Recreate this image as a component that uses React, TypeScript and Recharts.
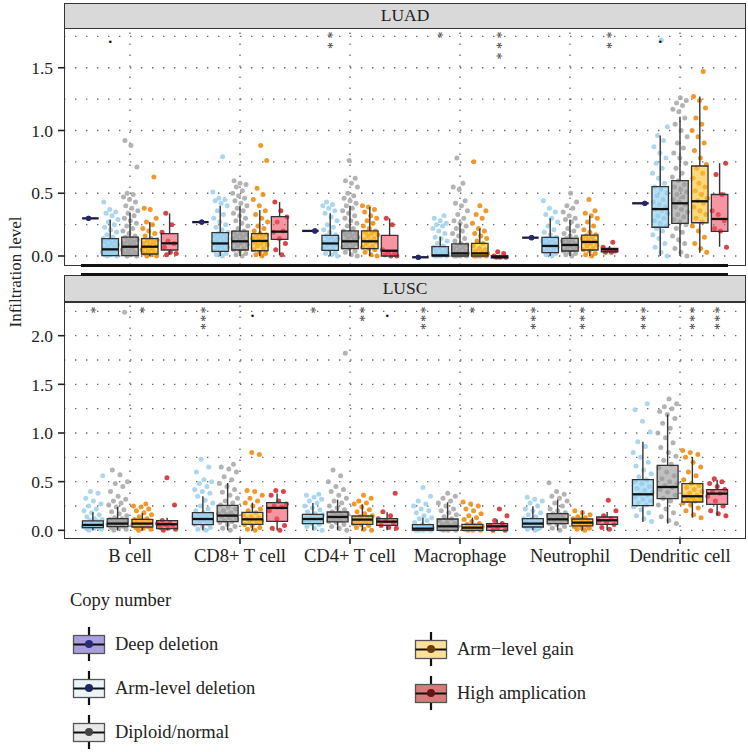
import React from 'react';
import { ComposedChart, Scatter, XAxis, YAxis, ReferenceLine, ReferenceArea } from 'recharts';

// ---------- categories / labels ----------
const CATEGORIES = ['B cell', 'CD8+ T cell', 'CD4+ T cell', 'Macrophage', 'Neutrophil', 'Dendritic cell'];
const GROUP_NAMES = ['Deep deletion', 'Arm-level deletion', 'Diploid/normal', 'Arm\u2212level gain', 'High amplication'];
const LEGEND_TITLE = 'Copy number';
const Y_TITLE = 'Infiltration level';
const PANELS = ['LUAD', 'LUSC'];
const Y_TICKS_LUAD = [0, 0.5, 1.0, 1.5];
const Y_TICKS_LUSC = [0, 0.5, 1.0, 1.5, 2.0];
const GRID_LUAD = [0, 0.25, 0.5, 0.75, 1, 1.25, 1.5, 1.75];
const GRID_LUSC = [0, 0.25, 0.5, 0.75, 1, 1.25, 1.5, 1.75, 2, 2.25];

// ---------- LUAD ----------
const LUAD_DEEP = [0.30, 0.27, 0.20, -0.01, 0.146, 0.42];
// box stats per category: [lower whisker, q1, median, q3, upper whisker]
const LUAD_ARMDEL_BOX = [[0, 0.003, 0.053, 0.138, 0.29], [0, 0.037, 0.10, 0.186, 0.40], [0, 0.045, 0.10, 0.165, 0.34], [0, 0, 0.005, 0.074, 0.154], [0, 0.027, 0.08, 0.149, 0.30], [0, 0.229, 0.374, 0.552, 0.96]];
const LUAD_DIPLOID_BOX = [[0, 0.003, 0.074, 0.151, 0.345], [0, 0.048, 0.117, 0.199, 0.40], [0, 0.058, 0.117, 0.20, 0.40], [0, 0, 0.021, 0.096, 0.26], [0, 0.04, 0.088, 0.141, 0.287], [0, 0.26, 0.42, 0.60, 1.11]];
const LUAD_GAIN_BOX = [[0, 0.016, 0.074, 0.138, 0.27], [0, 0.042, 0.12, 0.178, 0.366], [0, 0.058, 0.117, 0.20, 0.39], [0, 0, 0.021, 0.10, 0.22], [0, 0.048, 0.112, 0.167, 0.32], [0.026, 0.265, 0.436, 0.717, 1.27]];
const LUAD_AMP_BOX = [[0.01, 0.048, 0.101, 0.178, 0.34], [0.008, 0.133, 0.194, 0.313, 0.43], [0, 0, 0.042, 0.165, 0.30], [-0.015, -0.015, -0.008, 0.002, 0.01], [0.03, 0.034, 0.053, 0.06, 0.08], [0.074, 0.197, 0.295, 0.49, 0.74]];

const LUAD_ARMDEL_PTS = [
  [0, 0, 0.01, 0.01, 0.02, 0.02, 0.03, 0.03, 0.04, 0.05, 0.05, 0.06, 0.07, 0.08, 0.09, 0.1, 0.11, 0.12, 0.13, 0.14, 0.15, 0.17, 0.19, 0.21, 0.23, 0.25, 0.27, 0.29, 0.32, 0.34, 0.35, 0.37, 0.43],
  [0, 0.01, 0.02, 0.03, 0.04, 0.05, 0.06, 0.07, 0.08, 0.09, 0.1, 0.1, 0.11, 0.12, 0.13, 0.14, 0.15, 0.16, 0.17, 0.18, 0.19, 0.21, 0.23, 0.25, 0.27, 0.3, 0.33, 0.36, 0.4, 0.42, 0.44, 0.45, 0.46, 0.51, 0.79],
  [0, 0.01, 0.02, 0.03, 0.05, 0.06, 0.07, 0.08, 0.09, 0.1, 0.11, 0.12, 0.13, 0.14, 0.15, 0.16, 0.17, 0.19, 0.21, 0.23, 0.25, 0.28, 0.31, 0.34, 0.36, 0.38, 0.4, 0.41, 0.43],
  [0, 0, 0, 0, 0.01, 0.01, 0.02, 0.03, 0.04, 0.05, 0.06, 0.07, 0.08, 0.1, 0.12, 0.14, 0.15, 0.18, 0.2, 0.22, 0.24, 0.25, 0.26, 0.28, 0.3, 0.32],
  [0, 0.01, 0.02, 0.03, 0.04, 0.05, 0.06, 0.07, 0.08, 0.09, 0.1, 0.11, 0.12, 0.13, 0.14, 0.15, 0.17, 0.19, 0.21, 0.24, 0.27, 0.3, 0.33, 0.35, 0.38, 0.44],
  [0, 0.03, 0.07, 0.1, 0.14, 0.17, 0.2, 0.22, 0.24, 0.26, 0.28, 0.3, 0.32, 0.34, 0.36, 0.37, 0.39, 0.41, 0.43, 0.45, 0.48, 0.5, 0.53, 0.55, 0.58, 0.62, 0.66, 0.7, 0.74, 0.78, 0.82, 0.87, 0.92, 0.96, 1.03, 1.72],
];
const LUAD_DIPLOID_PTS = [
  [0, 0, 0.01, 0.02, 0.03, 0.04, 0.05, 0.06, 0.07, 0.08, 0.09, 0.1, 0.11, 0.12, 0.13, 0.14, 0.15, 0.16, 0.18, 0.2, 0.22, 0.24, 0.26, 0.28, 0.3, 0.32, 0.34, 0.36, 0.38, 0.4, 0.43, 0.45, 0.47, 0.49, 0.5, 0.71, 0.88, 0.92],
  [0, 0.01, 0.02, 0.04, 0.05, 0.06, 0.08, 0.09, 0.1, 0.11, 0.12, 0.13, 0.14, 0.15, 0.16, 0.17, 0.18, 0.19, 0.2, 0.22, 0.24, 0.26, 0.28, 0.3, 0.32, 0.34, 0.36, 0.38, 0.4, 0.42, 0.44, 0.46, 0.48, 0.5, 0.52, 0.55, 0.57, 0.58, 0.6],
  [0, 0.01, 0.03, 0.04, 0.06, 0.07, 0.08, 0.09, 0.1, 0.11, 0.12, 0.13, 0.14, 0.15, 0.16, 0.17, 0.18, 0.19, 0.2, 0.22, 0.24, 0.26, 0.28, 0.3, 0.32, 0.34, 0.36, 0.38, 0.4, 0.42, 0.44, 0.46, 0.48, 0.5, 0.55, 0.58, 0.6, 0.62, 0.76],
  [0, 0, 0, 0, 0.01, 0.01, 0.02, 0.02, 0.03, 0.04, 0.05, 0.06, 0.07, 0.08, 0.09, 0.1, 0.12, 0.14, 0.16, 0.18, 0.2, 0.22, 0.24, 0.26, 0.28, 0.3, 0.33, 0.36, 0.4, 0.42, 0.44, 0.53, 0.55, 0.58, 0.78],
  [0, 0.01, 0.02, 0.03, 0.04, 0.05, 0.06, 0.07, 0.08, 0.09, 0.1, 0.11, 0.12, 0.13, 0.14, 0.15, 0.16, 0.18, 0.2, 0.22, 0.24, 0.27, 0.29, 0.3, 0.32, 0.35, 0.38, 0.4, 0.43, 0.5],
  [0, 0.03, 0.06, 0.1, 0.13, 0.16, 0.19, 0.22, 0.25, 0.27, 0.29, 0.31, 0.33, 0.35, 0.37, 0.39, 0.41, 0.43, 0.45, 0.47, 0.49, 0.51, 0.53, 0.55, 0.57, 0.6, 0.63, 0.66, 0.7, 0.74, 0.78, 0.82, 0.86, 0.9, 0.95, 1.0, 1.05, 1.1, 1.15, 1.17, 1.2, 1.22, 1.24, 1.26],
];
const LUAD_GAIN_PTS = [
  [0, 0, 0.01, 0.02, 0.03, 0.04, 0.05, 0.06, 0.07, 0.08, 0.09, 0.1, 0.11, 0.12, 0.13, 0.14, 0.16, 0.18, 0.2, 0.22, 0.25, 0.27, 0.3, 0.37, 0.38, 0.63],
  [0, 0.01, 0.02, 0.03, 0.05, 0.06, 0.08, 0.09, 0.1, 0.11, 0.12, 0.13, 0.14, 0.15, 0.16, 0.17, 0.18, 0.2, 0.22, 0.24, 0.27, 0.3, 0.33, 0.36, 0.4, 0.45, 0.49, 0.54, 0.76, 0.88],
  [0, 0.01, 0.03, 0.05, 0.06, 0.07, 0.08, 0.1, 0.11, 0.12, 0.13, 0.14, 0.16, 0.17, 0.18, 0.19, 0.2, 0.22, 0.24, 0.26, 0.28, 0.3, 0.32, 0.35, 0.37, 0.39, 0.4],
  [0, 0, 0, 0, 0.01, 0.01, 0.02, 0.03, 0.04, 0.05, 0.06, 0.08, 0.1, 0.12, 0.14, 0.16, 0.18, 0.2, 0.22, 0.26, 0.3, 0.33, 0.36, 0.4, 0.75],
  [0, 0.01, 0.02, 0.04, 0.05, 0.06, 0.08, 0.09, 0.1, 0.11, 0.12, 0.13, 0.14, 0.15, 0.16, 0.17, 0.19, 0.21, 0.24, 0.27, 0.3, 0.32, 0.34, 0.36, 0.45],
  [0.03, 0.06, 0.1, 0.15, 0.2, 0.24, 0.27, 0.3, 0.33, 0.36, 0.39, 0.42, 0.44, 0.46, 0.49, 0.52, 0.55, 0.58, 0.62, 0.66, 0.7, 0.73, 0.78, 0.84, 0.9, 0.95, 1.0, 1.05, 1.1, 1.18, 1.24, 1.27, 1.47],
];
const LUAD_AMP_PTS = [
  [0.01, 0.02, 0.03, 0.07, 0.1, 0.12, 0.19, 0.25, 0.34],
  [0.01, 0.05, 0.1, 0.14, 0.19, 0.2, 0.27, 0.31, 0.36, 0.43],
  [0, 0, 0.01, 0.02, 0.03, 0.05, 0.25, 0.3],
  [-0.01, -0.01, -0.01, 0, 0.02, 0.034],
  [0.03, 0.03, 0.04, 0.05, 0.07, 0.11],
  [0.07, 0.2, 0.22, 0.28, 0.33, 0.36, 0.49, 0.65, 0.74],
];

// ---------- LUSC ----------
const LUSC_ARMDEL_BOX = [[0, 0.027, 0.055, 0.096, 0.185], [0, 0.058, 0.116, 0.182, 0.35], [0, 0.069, 0.116, 0.164, 0.281], [0, 0, 0.017, 0.058, 0.13], [0, 0.034, 0.069, 0.12, 0.247], [0.086, 0.254, 0.37, 0.521, 0.91]];
const LUSC_DIPLOID_BOX = [[0, 0.038, 0.069, 0.12, 0.24], [0, 0.089, 0.151, 0.257, 0.486], [0, 0.086, 0.137, 0.188, 0.315], [0, 0, 0.041, 0.116, 0.288], [0, 0.069, 0.113, 0.171, 0.315], [0.069, 0.326, 0.445, 0.668, 1.19]];
const LUSC_GAIN_BOX = [[0, 0.034, 0.069, 0.113, 0.178], [0, 0.062, 0.113, 0.185, 0.284], [0, 0.062, 0.11, 0.147, 0.267], [0, 0, 0.027, 0.062, 0.13], [0, 0.045, 0.079, 0.116, 0.205], [0.13, 0.291, 0.35, 0.48, 0.754]];
const LUSC_AMP_BOX = [[0, 0.017, 0.062, 0.099, 0.13], [0, 0.092, 0.23, 0.284, 0.377], [0, 0.051, 0.089, 0.12, 0.185], [0, 0, 0.041, 0.069, 0.11], [0, 0.062, 0.103, 0.137, 0.188], [0.154, 0.267, 0.377, 0.418, 0.52]];

const LUSC_ARMDEL_PTS = [
  [0, 0.01, 0.02, 0.02, 0.03, 0.04, 0.04, 0.05, 0.05, 0.06, 0.07, 0.08, 0.09, 0.1, 0.11, 0.12, 0.14, 0.16, 0.18, 0.2, 0.22, 0.25, 0.27, 0.3, 0.33, 0.38, 0.4, 0.56],
  [0, 0.01, 0.03, 0.04, 0.06, 0.07, 0.08, 0.09, 0.1, 0.11, 0.12, 0.13, 0.14, 0.15, 0.16, 0.17, 0.18, 0.2, 0.22, 0.25, 0.28, 0.31, 0.35, 0.38, 0.4, 0.42, 0.45, 0.48, 0.5, 0.52, 0.6, 0.65, 0.73],
  [0, 0.02, 0.04, 0.06, 0.07, 0.08, 0.09, 0.1, 0.11, 0.12, 0.13, 0.14, 0.15, 0.16, 0.17, 0.19, 0.21, 0.23, 0.25, 0.28, 0.3, 0.32, 0.34, 0.36, 0.37],
  [0, 0, 0, 0, 0.01, 0.01, 0.02, 0.03, 0.04, 0.05, 0.06, 0.08, 0.1, 0.12, 0.13, 0.15, 0.18, 0.2, 0.22, 0.25, 0.27, 0.3, 0.35, 0.44],
  [0, 0.01, 0.02, 0.03, 0.04, 0.05, 0.06, 0.07, 0.08, 0.09, 0.1, 0.11, 0.12, 0.14, 0.16, 0.18, 0.2, 0.22, 0.25, 0.28, 0.3, 0.32, 0.34],
  [0.09, 0.12, 0.15, 0.18, 0.21, 0.24, 0.26, 0.28, 0.3, 0.32, 0.34, 0.36, 0.37, 0.39, 0.41, 0.43, 0.45, 0.48, 0.5, 0.52, 0.55, 0.58, 0.62, 0.66, 0.7, 0.75, 0.8, 0.86, 0.91, 1.01, 1.12, 1.24, 1.3],
];
const LUSC_DIPLOID_PTS = [
  [0, 0.01, 0.02, 0.03, 0.04, 0.05, 0.06, 0.07, 0.08, 0.09, 0.1, 0.11, 0.12, 0.13, 0.15, 0.17, 0.19, 0.21, 0.24, 0.26, 0.28, 0.3, 0.32, 0.35, 0.4, 0.45, 0.48, 0.5, 0.57, 0.62, 2.24],
  [0, 0.02, 0.04, 0.06, 0.08, 0.09, 0.1, 0.12, 0.13, 0.14, 0.15, 0.16, 0.17, 0.18, 0.2, 0.22, 0.24, 0.26, 0.28, 0.3, 0.33, 0.36, 0.39, 0.42, 0.45, 0.48, 0.52, 0.55, 0.6, 0.63, 0.65, 0.68],
  [0, 0.02, 0.04, 0.06, 0.08, 0.09, 0.1, 0.11, 0.12, 0.13, 0.14, 0.15, 0.16, 0.17, 0.18, 0.19, 0.21, 0.23, 0.25, 0.28, 0.3, 0.33, 0.36, 0.4, 0.42, 0.45, 0.5, 0.56, 0.62, 1.82],
  [0, 0, 0, 0.01, 0.02, 0.03, 0.04, 0.05, 0.06, 0.07, 0.08, 0.1, 0.12, 0.14, 0.16, 0.18, 0.2, 0.22, 0.25, 0.28, 0.3, 0.33, 0.35, 0.38],
  [0, 0.02, 0.04, 0.06, 0.07, 0.08, 0.09, 0.1, 0.11, 0.12, 0.13, 0.14, 0.15, 0.16, 0.17, 0.18, 0.2, 0.22, 0.25, 0.28, 0.3, 0.33, 0.35, 0.37, 0.4, 0.49],
  [0.07, 0.1, 0.14, 0.18, 0.22, 0.26, 0.3, 0.33, 0.36, 0.39, 0.42, 0.44, 0.46, 0.48, 0.5, 0.53, 0.56, 0.6, 0.64, 0.68, 0.72, 0.76, 0.8, 0.85, 0.9, 0.95, 1.0, 1.05, 1.1, 1.15, 1.19, 1.22, 1.25, 1.27, 1.3, 1.35],
];
const LUSC_GAIN_PTS = [
  [0, 0.01, 0.02, 0.03, 0.04, 0.05, 0.06, 0.07, 0.08, 0.09, 0.1, 0.11, 0.12, 0.14, 0.16, 0.18, 0.2, 0.22, 0.24, 0.25, 0.27],
  [0, 0.01, 0.03, 0.05, 0.06, 0.08, 0.09, 0.1, 0.11, 0.12, 0.13, 0.14, 0.16, 0.18, 0.2, 0.22, 0.25, 0.28, 0.3, 0.33, 0.36, 0.4, 0.41, 0.78, 0.8],
  [0, 0.01, 0.03, 0.05, 0.06, 0.07, 0.08, 0.09, 0.1, 0.11, 0.12, 0.13, 0.14, 0.15, 0.17, 0.19, 0.21, 0.24, 0.27, 0.28, 0.3, 0.33, 0.36],
  [0, 0, 0, 0.01, 0.02, 0.03, 0.04, 0.05, 0.06, 0.07, 0.09, 0.11, 0.13, 0.15, 0.17, 0.2, 0.22, 0.25, 0.27, 0.29],
  [0, 0.01, 0.02, 0.03, 0.04, 0.05, 0.06, 0.07, 0.08, 0.09, 0.1, 0.11, 0.12, 0.13, 0.14, 0.16, 0.18, 0.2],
  [0.13, 0.16, 0.2, 0.23, 0.26, 0.28, 0.3, 0.31, 0.32, 0.33, 0.35, 0.36, 0.38, 0.4, 0.42, 0.44, 0.46, 0.48, 0.52, 0.56, 0.6, 0.65, 0.7, 0.75, 0.78, 0.8, 0.82],
];
const LUSC_AMP_PTS = [
  [0, 0.01, 0.02, 0.03, 0.05, 0.06, 0.07, 0.08, 0.1, 0.26, 0.54],
  [0, 0.02, 0.05, 0.12, 0.2, 0.24, 0.25, 0.27, 0.3, 0.36, 0.4, 0.41],
  [0.02, 0.03, 0.05, 0.08, 0.1, 0.12, 0.15, 0.19, 0.38],
  [0, 0, 0.02, 0.05, 0.07, 0.1, 0.15, 0.22],
  [0.01, 0.03, 0.06, 0.08, 0.1, 0.12, 0.15, 0.2, 0.31],
  [0.15, 0.17, 0.2, 0.25, 0.3, 0.35, 0.38, 0.4, 0.42, 0.45, 0.48, 0.5, 0.53],
];

// significance labels: [category index, group index, label]
const LUAD_SIG: [number, number, string][] = [[0, 1, '.'], [2, 1, '**'], [3, 1, '*'], [3, 4, '***'], [4, 4, '**'], [5, 1, '.']];
const LUSC_SIG: [number, number, string][] = [[0, 1, '*'], [0, 3, '*'], [1, 1, '***'], [1, 3, '.'], [2, 1, '*'], [2, 3, '**'], [2, 4, '.'], [3, 1, '***'], [3, 3, '*'], [4, 1, '***'], [4, 3, '***'], [5, 1, '***'], [5, 3, '***'], [5, 4, '***']];
const LUAD_SIG_Y = 1.76;
const LUSC_SIG_Y = 2.265;

// ---------- styles ----------
const FONT = '"Liberation Serif", "Times New Roman", serif';
const POINT_COLORS = ['#27276d', '#9fd0ea', '#a9a9a9', '#ef8a0c', '#d42a2e'];
const BOX_FILLS = ['#a99fdf', '#8fcdee', '#9a9a9a', '#fbc22f', '#f2546a'];
const LEGEND_FILLS = ['#a99fdf', '#eaf4f9', '#e9e9e9', '#fde19a', '#d77b7b'];
const LEGEND_DOTS = ['#2b2a78', '#1f2860', '#444444', '#6b3b10', '#6b1212'];

const jit = (i: number) => ((i * 0.6180339887 + 0.31) % 1) - 0.5;

type PanelCfg = {
  name: string;
  top: number;
  height: number;
  marginTop: number;
  marginBottom: number;
  yDomain: [number, number];
  yTicks: number[];
  grid: number[];
  showX: boolean;
  groups: number[];
  offsets: number[];
  boxW: number;
  boxes: number[][][];
  points: number[][][];
  sig: [number, number, string][];
  sigY: number;
  sigGap: number;
};

const SigShape = (gap: number) => (p: any) => {
  const { cx, cy, payload } = p;
  const s: string = payload.label;
  if (s === '.') {
    return (
      <text x={cx} y={cy + gap * 0.5 + 3} textAnchor="middle" fontSize={22} fontFamily={FONT} fill="#111" stroke="none">.</text>
    );
  }
  const fs = 14;
  const ls = gap - fs * 0.5;
  return (
    <text
      x={cx - fs * 0.25}
      y={cy}
      dy={fs * 0.52}
      transform={`rotate(90 ${cx} ${cy})`}
      fontSize={fs}
      letterSpacing={ls}
      fontFamily={FONT}
      fill="#3a3a3a"
      stroke="none"
    >
      {s}
    </text>
  );
};

function Panel({ cfg }: { cfg: PanelCfg }) {
  const xOf = (cat: number, gi: number) => cat + 1 + cfg.offsets[gi];
  const half = cfg.boxW / 2;
  const scatterData = cfg.groups.map((g, gi) => {
    const arr: { x: number; y: number }[] = [];
    cfg.points[gi].forEach((vals, cat) => {
      vals.forEach((v, i) => {
        arr.push({ x: xOf(cat, gi) + jit(i + cat * 7) * cfg.boxW * (g === 0 ? 0.6 : 0.95), y: v });
      });
    });
    return arr;
  });
  const sigData = cfg.sig.map(([cat, g, label]) => ({
    x: xOf(cat, cfg.groups.indexOf(g)),
    y: cfg.sigY,
    label,
  }));
  return (
    <div style={{ position: 'absolute', left: 0, top: cfg.top, width: 748, height: cfg.height }}>
      <ComposedChart
        width={748}
        height={cfg.height}
        margin={{ top: cfg.marginTop, right: 2, bottom: cfg.marginBottom, left: 8 }}
      >
        <XAxis
          type="number"
          dataKey="x"
          domain={[0.4, 6.6]}
          allowDataOverflow
          ticks={[1, 2, 3, 4, 5, 6]}
          interval={0}
          hide={!cfg.showX}
          height={30}
          tickFormatter={(v: number) => CATEGORIES[Math.round(v) - 1]}
          tickSize={6}
          tickMargin={5}
          axisLine={false}
          tickLine={{ stroke: '#222', strokeWidth: 1.6 }}
          tick={{ fill: '#222', fontSize: 18.5, fontFamily: FONT }}
        />
        <YAxis
          type="number"
          dataKey="y"
          domain={cfg.yDomain}
          allowDataOverflow
          ticks={cfg.yTicks}
          interval={0}
          width={56}
          tickFormatter={(v: number) => v.toFixed(1)}
          tickSize={6}
          tickMargin={5}
          axisLine={false}
          tickLine={{ stroke: '#222', strokeWidth: 1.6 }}
          tick={{ fill: '#222', fontSize: 17.5, fontFamily: FONT }}
        />
        {cfg.grid.map((v) => (
          <ReferenceLine key={'h' + v} y={v} stroke="#666" strokeWidth={1.3} strokeDasharray="1.4 9.6" zIndex={-10} />
        ))}
        {CATEGORIES.map((c, i) => (
          <ReferenceLine key={'v' + c} x={i + 1} stroke="#666" strokeWidth={1.3} strokeDasharray="1.4 9.6" zIndex={-10} />
        ))}
        {cfg.groups.map((g, gi) => (
          <Scatter
            key={'pts' + g}
            data={scatterData[gi]}
            isAnimationActive={false}
            zIndex={650}
            shape={(p: any) => (
              <circle cx={p.cx} cy={p.cy} r={g === 0 ? 2.6 : 2.5} fill={POINT_COLORS[g]} fillOpacity={g === 0 ? 1 : 0.88} />
            )}
          />
        ))}
        {cfg.groups.map((g, gi) =>
          cfg.boxes[gi].map((b, cat) => {
            const xc = xOf(cat, gi);
            const [lo, q1, med, q3, hi] = b;
            const els = [];
            if (q3 > q1) {
              els.push(
                <ReferenceArea
                  key={`box${g}-${cat}`}
                  x1={xc - half}
                  x2={xc + half}
                  y1={q1}
                  y2={q3}
                  fill={BOX_FILLS[g]}
                  fillOpacity={0.62}
                  stroke="#333"
                  strokeWidth={1.3}
                  strokeOpacity={1}
                  ifOverflow="visible"
                  zIndex={700}
                />,
              );
            }
            if (hi > q3)
              els.push(
                <ReferenceLine key={`wh${g}-${cat}`} segment={[{ x: xc, y: q3 }, { x: xc, y: hi }]} stroke="#333" strokeWidth={1.4} ifOverflow="visible" zIndex={750} />,
              );
            if (q1 > lo)
              els.push(
                <ReferenceLine key={`wl${g}-${cat}`} segment={[{ x: xc, y: lo }, { x: xc, y: q1 }]} stroke="#333" strokeWidth={1.4} ifOverflow="visible" zIndex={750} />,
              );
            els.push(
              <ReferenceLine
                key={`md${g}-${cat}`}
                segment={[{ x: xc - half, y: med }, { x: xc + half, y: med }]}
                stroke={g === 0 ? '#1a1a3a' : '#111'}
                strokeWidth={2.3}
                ifOverflow="visible"
                zIndex={760}
              />,
            );
            return els;
          }),
        )}
        {cfg.groups.includes(0) && (
          <Scatter
            key="deepdots"
            data={scatterData[0]}
            isAnimationActive={false}
            zIndex={800}
            shape={(p: any) => <circle cx={p.cx} cy={p.cy} r={2.6} fill={POINT_COLORS[0]} />}
          />
        )}
        <Scatter data={sigData} isAnimationActive={false} zIndex={900} shape={SigShape(cfg.sigGap)} />
      </ComposedChart>
    </div>
  );
}

const LUAD_CFG: PanelCfg = {
  name: PANELS[0],
  top: 0,
  height: 270,
  marginTop: 28,
  marginBottom: 5,
  yDomain: [-0.0717, 1.8167],
  yTicks: Y_TICKS_LUAD,
  grid: GRID_LUAD,
  showX: false,
  groups: [0, 1, 2, 3, 4],
  offsets: [-0.36, -0.18, 0, 0.18, 0.36],
  boxW: 0.15,
  boxes: [LUAD_DEEP.map((v) => [v, v, v, v, v]), LUAD_ARMDEL_BOX, LUAD_DIPLOID_BOX, LUAD_GAIN_BOX, LUAD_AMP_BOX],
  points: [LUAD_DEEP.map((v) => [v]), LUAD_ARMDEL_PTS, LUAD_DIPLOID_PTS, LUAD_GAIN_PTS, LUAD_AMP_PTS],
  sig: LUAD_SIG,
  sigY: LUAD_SIG_Y,
  sigGap: 10.5,
};

const LUSC_CFG: PanelCfg = {
  name: PANELS[1],
  top: 290,
  height: 278,
  marginTop: 12,
  marginBottom: 0,
  yDomain: [-0.079, 2.346],
  yTicks: Y_TICKS_LUSC,
  grid: GRID_LUSC,
  showX: true,
  groups: [1, 2, 3, 4],
  offsets: [-0.3375, -0.1125, 0.1125, 0.3375],
  boxW: 0.19,
  boxes: [LUSC_ARMDEL_BOX, LUSC_DIPLOID_BOX, LUSC_GAIN_BOX, LUSC_AMP_BOX],
  points: [LUSC_ARMDEL_PTS, LUSC_DIPLOID_PTS, LUSC_GAIN_PTS, LUSC_AMP_PTS],
  sig: LUSC_SIG,
  sigY: LUSC_SIG_Y,
  sigGap: 8.3,
};

function Strip({ top, height, label }: { top: number; height: number; label: string }) {
  return (
    <div
      style={{
        position: 'absolute',
        left: 64,
        top,
        width: 682,
        height,
        boxSizing: 'border-box',
        background: '#d9d9d9',
        border: '1.3px solid #333',
        fontFamily: FONT,
        fontSize: 17.5,
        color: '#222',
        display: 'flex',
        alignItems: 'center',
        justifyContent: 'center',
      }}
    >
      {label}
    </div>
  );
}

function Border({ top, height }: { top: number; height: number }) {
  return (
    <div
      style={{
        position: 'absolute',
        left: 64,
        top,
        width: 682,
        height,
        boxSizing: 'border-box',
        border: '1.3px solid #333',
        pointerEvents: 'none',
      }}
    />
  );
}

function Legend() {
  const col1 = [0, 1, 2];
  const col2 = [3, 4];
  const item = (g: number, cx: number, cy: number) => (
    <g key={g}>
      <line x1={cx} x2={cx} y1={cy - 17} y2={cy + 17} stroke="#111" strokeWidth={2.2} />
      <rect x={cx - 15.5} y={cy - 8.5} width={31} height={18} fill={LEGEND_FILLS[g]} stroke="#555" strokeWidth={1.3} />
      <line x1={cx - 15.5} x2={cx + 15.5} y1={cy + 0.5} y2={cy + 0.5} stroke="#111" strokeWidth={2} />
      <circle cx={cx} cy={cy} r={4} fill={LEGEND_DOTS[g]} />
      <text x={cx + 26} y={cy} dominantBaseline="central" fontSize={18.5} fontFamily={FONT} fill="#222">
        {GROUP_NAMES[g]}
      </text>
    </g>
  );
  return (
    <svg style={{ position: 'absolute', left: 0, top: 570 }} width={748} height={182}>
      <text x={70} y={30} dominantBaseline="central" fontSize={18.5} fontFamily={FONT} fill="#222">
        {LEGEND_TITLE}
      </text>
      {col1.map((g, i) => item(g, 89, 74 + i * 44))}
      {col2.map((g, i) => item(g, 431, 79 + i * 44))}
    </svg>
  );
}

export default function App() {
  return (
    <div style={{ position: 'absolute', left: 0, top: 0, width: 748, height: 752, background: '#fff', overflow: 'hidden' }}>
      <Panel cfg={LUAD_CFG} />
      <Panel cfg={LUSC_CFG} />
      <Strip top={3} height={25.5} label={PANELS[0]} />
      <Strip top={275} height={27} label={PANELS[1]} />
      <Border top={28} height={237.5} />
      <Border top={301.5} height={237} />
      <div style={{ position: 'absolute', left: 81, top: 263.5, width: 647, height: 3, background: '#111' }} />
      <div style={{ position: 'absolute', left: 81, top: 272.5, width: 647, height: 3, background: '#111' }} />
      <svg style={{ position: 'absolute', left: 0, top: 0 }} width={40} height={560}>
        <text
          x={15}
          y={272}
          transform="rotate(-90 15 272)"
          textAnchor="middle"
          dominantBaseline="central"
          fontSize={17}
          fontFamily={FONT}
          fill="#222"
        >
          {Y_TITLE}
        </text>
      </svg>
      <Legend />
    </div>
  );
}
